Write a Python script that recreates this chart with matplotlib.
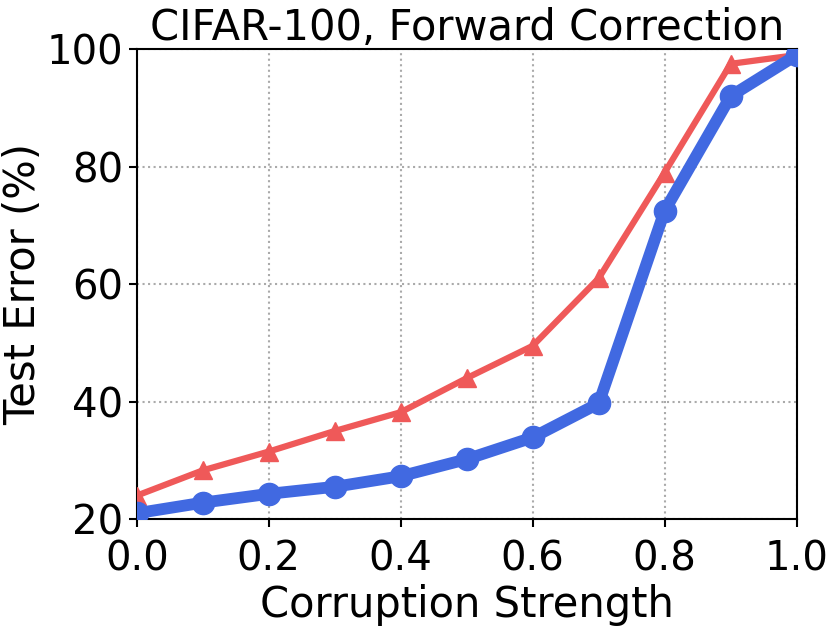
import numpy as np
import matplotlib

matplotlib.use('Agg')
import matplotlib.pyplot as plt

# corruption strength on x, test error (%) on y
strength = [0.0, 0.1, 0.2, 0.3, 0.4, 0.5, 0.6, 0.7, 0.8, 0.9, 1.0]
err_forward = [24.0, 28.3, 31.5, 35.0, 38.2, 44.0, 49.5, 61.0, 79.0, 97.5, 99.0]
err_ours = [21.0, 22.8, 24.3, 25.5, 27.3, 30.2, 33.9, 39.7, 72.5, 92.0, 99.0]

plt.rcParams['font.family'] = ['DejaVu Sans']

fig = plt.figure(figsize=(8.29, 6.3), dpi=100)
ax = fig.add_axes((0.165, 0.176, 0.796, 0.746))

ax.plot(strength, err_forward, color='#ef5959', lw=4.5, marker='^', ms=13, zorder=3)
ax.plot(strength, err_ours, color='#4169e1', lw=8.5, marker='o', ms=16, zorder=4)

ax.set_xlim(0, 1)
ax.set_ylim(20, 100)
ax.set_xticks(np.arange(0, 1.01, 0.2))
ax.set_yticks([20, 40, 60, 80, 100])
ax.grid(True, linestyle=':', color='#aaaaaa', lw=1.5)
ax.tick_params(labelsize=29, width=1.5, length=6)
ax.tick_params(axis='x', pad=9)
for s in ax.spines.values():
    s.set_linewidth(1.5)

ax.set_xlabel('Corruption Strength', fontsize=30, labelpad=3)
ax.set_ylabel('Test Error (%)', fontsize=30, labelpad=2)
ax.set_title('CIFAR-100, Forward Correction', fontsize=30, pad=6)

plt.savefig('out.png', dpi=100)
